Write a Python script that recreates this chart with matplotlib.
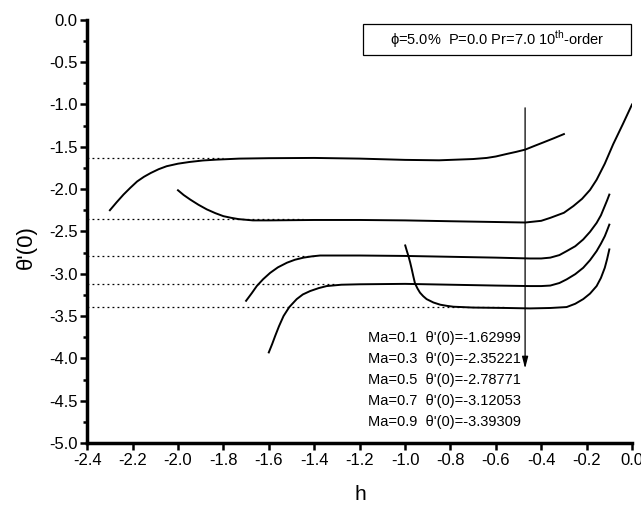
import matplotlib
matplotlib.use("Agg")
import matplotlib.pyplot as plt
from matplotlib.patches import Rectangle

plt.rcParams["font.family"] = ["Liberation Sans", "DejaVu Sans"]
plt.rcParams["mathtext.fontset"] = "custom"
plt.rcParams["mathtext.rm"] = "Liberation Sans"

# curves: theta'(0) against h for each Ma
h_ma01 = [-2.30, -2.27, -2.24, -2.21, -2.18, -2.15, -2.12, -2.085, -2.05, -2.00,
          -1.95, -1.89, -1.83, -1.73, -1.60, -1.40, -1.20, -1.00, -0.85, -0.70,
          -0.64, -0.60, -0.552, -0.51, -0.471, -0.43, -0.39, -0.345, -0.30]
t_ma01 = [-2.25, -2.155, -2.065, -1.985, -1.91, -1.855, -1.81, -1.765, -1.73, -1.70,
          -1.68, -1.662, -1.652, -1.64, -1.635, -1.632, -1.64, -1.655, -1.66, -1.645,
          -1.632, -1.615, -1.585, -1.56, -1.534, -1.49, -1.448, -1.40, -1.35]

h_ma03 = [-2.00, -1.975, -1.946, -1.91, -1.873, -1.835, -1.80, -1.765, -1.733, -1.67,
          -1.60, -1.40, -1.20, -1.00, -0.80, -0.58, -0.47, -0.40, -0.36, -0.30,
          -0.258, -0.22, -0.185, -0.156, -0.12, -0.083, -0.04, 0.0]
t_ma03 = [-2.014, -2.07, -2.124, -2.185, -2.24, -2.285, -2.32, -2.34, -2.355, -2.37,
          -2.37, -2.365, -2.365, -2.37, -2.38, -2.39, -2.395, -2.375, -2.34, -2.28,
          -2.20, -2.115, -2.01, -1.89, -1.70, -1.47, -1.23, -1.00]

h_ma05 = [-1.70, -1.675, -1.653, -1.625, -1.594, -1.56, -1.52, -1.485, -1.447, -1.41,
          -1.374, -1.20, -1.00, -0.80, -0.60, -0.45, -0.40, -0.36, -0.32, -0.288,
          -0.25, -0.215, -0.185, -0.156, -0.137, -0.12, -0.11, -0.10]
t_ma05 = [-3.32, -3.23, -3.146, -3.065, -2.99, -2.925, -2.87, -2.835, -2.81, -2.795,
          -2.785, -2.785, -2.79, -2.80, -2.81, -2.82, -2.82, -2.81, -2.78, -2.733,
          -2.675, -2.595, -2.505, -2.40, -2.31, -2.20, -2.135, -2.065]

h_ma07 = [-1.60, -1.585, -1.572, -1.555, -1.535, -1.51, -1.477, -1.45, -1.418, -1.38,
          -1.345, -1.28, -1.20, -1.00, -0.80, -0.60, -0.45, -0.40, -0.36, -0.32,
          -0.288, -0.25, -0.215, -0.185, -0.156, -0.137, -0.12, -0.11, -0.10]
t_ma07 = [-3.93, -3.83, -3.736, -3.62, -3.50, -3.395, -3.30, -3.245, -3.205, -3.17,
          -3.146, -3.13, -3.125, -3.12, -3.13, -3.14, -3.146, -3.146, -3.14, -3.11,
          -3.067, -3.005, -2.93, -2.84, -2.733, -2.645, -2.557, -2.49, -2.42]

h_ma09 = [-0.999, -0.992, -0.985, -0.977, -0.97, -0.963, -0.956, -0.945, -0.934, -0.92,
          -0.905, -0.875, -0.845, -0.815, -0.787, -0.70, -0.55, -0.45, -0.36, -0.288,
          -0.25, -0.215, -0.185, -0.156, -0.137, -0.12, -0.11, -0.10]
t_ma09 = [-2.666, -2.73, -2.79, -2.87, -2.95, -3.035, -3.114, -3.175, -3.224, -3.265,
          -3.30, -3.34, -3.366, -3.38, -3.39, -3.40, -3.405, -3.41, -3.405, -3.394,
          -3.355, -3.30, -3.235, -3.146, -3.05, -2.93, -2.83, -2.713]

ma_values = ["0.1", "0.3", "0.5", "0.7", "0.9"]
theta_values = ["-1.62999", "-2.35221", "-2.78771", "-3.12053", "-3.39309"]
# where each dotted reference line stops on the h axis
dotted_end = [-1.80, -1.45, -1.40, -1.30, -0.55]

x_ticks = [-2.4, -2.2, -2.0, -1.8, -1.6, -1.4, -1.2, -1.0, -0.8, -0.6, -0.4, -0.2, 0.0]
y_ticks = [0.0, -0.5, -1.0, -1.5, -2.0, -2.5, -3.0, -3.5, -4.0, -4.5, -5.0]

fig = plt.figure(figsize=(6.41, 5.08), dpi=100)
ax = fig.add_axes([0.136, 0.128, 0.850, 0.833])

curves = [(h_ma01, t_ma01), (h_ma03, t_ma03), (h_ma05, t_ma05),
          (h_ma07, t_ma07), (h_ma09, t_ma09)]
for h, t in curves:
    ax.plot(h, t, color="black", lw=1.4, solid_joinstyle="round")

for val, x_end in zip(theta_values, dotted_end):
    ax.plot([-2.4, x_end], [float(val), float(val)], color="black", lw=0.9,
            linestyle=(0, (1.5, 2.5)))

# arrow showing the direction of increasing Ma
ax.annotate("", xy=(-0.471, -4.12), xytext=(-0.471, -1.04),
            arrowprops=dict(arrowstyle="-|>,head_length=0.7,head_width=0.18",
                            color="black", lw=0.9, shrinkA=0, shrinkB=0))

for i, (ma, th) in enumerate(zip(ma_values, theta_values)):
    ax.text(-1.163, -3.76 - 0.248 * i, f"Ma={ma}  θ'(0)={th}", fontsize=10.5,
            va="center", ha="left")

ax.add_patch(Rectangle((0.506, 0.917), 0.492, 0.073, transform=ax.transAxes,
                       fill=False, edgecolor="black", lw=0.9, clip_on=False))
ax.text(0.752, 0.954, r"ϕ=5.0%  P=0.0 Pr=7.0 10$^{\rm th}$-order",
        transform=ax.transAxes, fontsize=10.5, ha="center", va="center")

ax.set_xlim(-2.4, 0.0)
ax.set_ylim(-5.0, 0.0)
ax.set_xticks(x_ticks)
ax.set_xticklabels([f"{v:.1f}" for v in x_ticks])
ax.set_yticks(y_ticks)
ax.set_yticklabels([f"{v:.1f}" for v in y_ticks])
ax.set_yticks([-0.25 - 0.5 * i for i in range(10)], minor=True)

for side in ("top", "right"):
    ax.spines[side].set_visible(False)
for side in ("left", "bottom"):
    ax.spines[side].set_linewidth(2.5)
ax.tick_params(which="major", direction="out", length=5, width=1.8, labelsize=12, pad=2)
ax.tick_params(which="minor", direction="out", length=3, width=1.8)

ax.set_xlabel("h", fontsize=15)
ax.set_ylabel("θ'(0)", fontsize=16)
ax.xaxis.set_label_coords(0.501, -0.100)
ax.yaxis.set_label_coords(-0.092, 0.463)

fig.savefig("out.png", dpi=100)
